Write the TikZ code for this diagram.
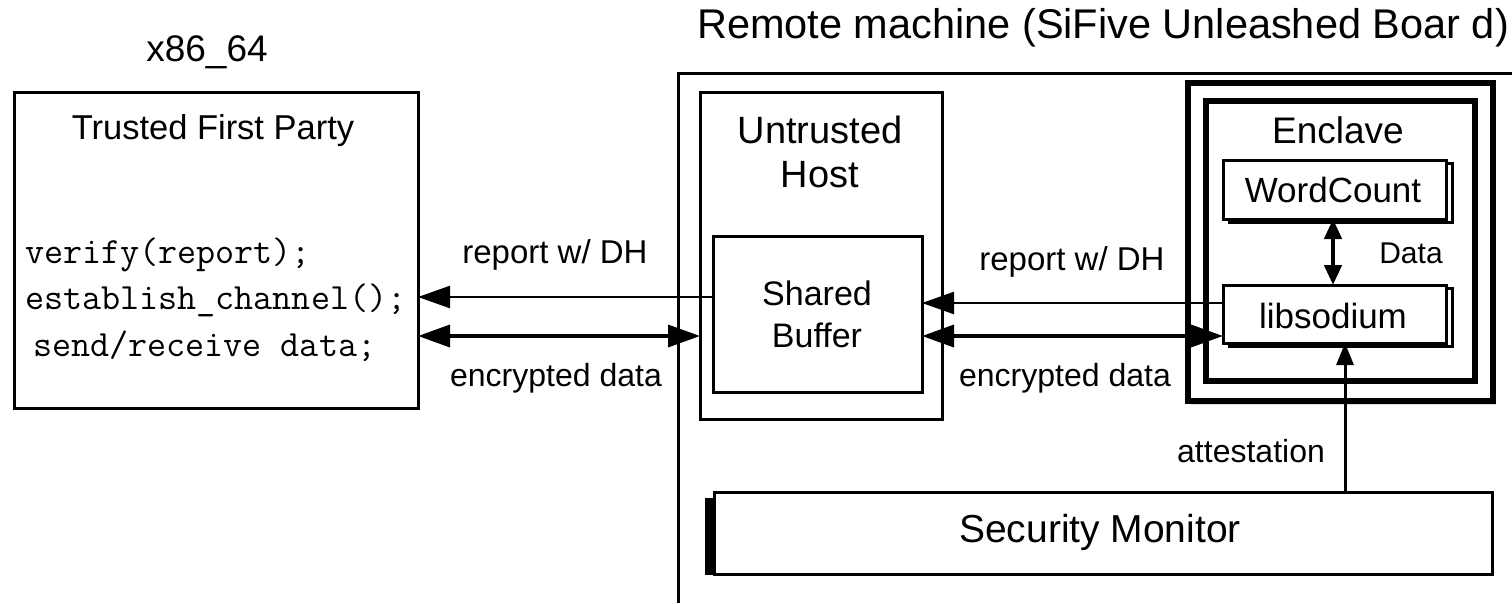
\documentclass[tikz,border=0pt]{standalone}
\usepackage{fontspec}
\setmainfont{Liberation Sans}
\usetikzlibrary{arrows.meta,shadows}
\begin{document}
\begin{tikzpicture}[x=1pt,y=-1pt,
  box/.style={draw,line width=3pt,inner sep=0pt,outer sep=0pt,fill=white},
  thickbox/.style={draw,line width=6pt,inner sep=0pt,outer sep=0pt,fill=white},
  txt/.style={inner sep=0pt,font=\fontsize{#1}{#1}\selectfont},
  txt/.default=32,
  code/.style={inner sep=0pt,anchor=west,font=\ttfamily\fontsize{37}{37}\selectfont},
  arr/.style={line width=2.5pt,-{Triangle[length=32pt,width=22pt]}},
  darr/.style={line width=3.5pt,{Triangle[length=32pt,width=22pt]}-{Triangle[length=32pt,width=22pt]}},
]
\useasboundingbox (0,0) rectangle (1512,603);

% remote machine frame
\coordinate (rmA) at (678,603);
\coordinate (rmB) at (678,73);
\coordinate (rmC) at (1512,73);
\draw[line width=3pt] (rmA) -- (rmB) -- (rmC);

% titles
\node[txt=37] (x86) at (207,52) {x86\_64};
\node[txt=41.5] (rmt) at (1103,28) {Remote machine (SiFive Unleashed Boar d)};

% trusted first party
\node[box,minimum width=404pt,minimum height=316pt] (tfp) at (216,250) {};
\node[txt=34.5] (tfpt) at (213,131) {Trusted First Party};
\node[code] (c1) at (25,255) {verify(report);};
\node[code] (c2) at (25,300) {establish\_channel();};
\node[code] (c3) at (33,346) {send/receive data;};

% untrusted host
\node[box,minimum width=242pt,minimum height=327pt] (uh) at (821,255.5) {};
\node[txt=38,align=center] (uht) at (820,152) {Untrusted\\[6pt]Host};
\node[box,minimum width=209pt,minimum height=156pt] (sb) at (817.5,314) {};
\node[txt=34,align=center] (sbt) at (817,314) {Shared\\[8pt]Buffer};

% enclave
\node[thickbox,minimum width=305pt,minimum height=318pt,
      drop shadow={opacity=0.25,shadow xshift=3pt,shadow yshift=-4pt}] (encO) at (1340.5,242) {};
\node[thickbox,minimum width=269pt,minimum height=280pt] (encI) at (1340.5,241) {};
\node[txt=37] (enct) at (1338,130) {Enclave};

% WordCount
\node[box,minimum width=223pt,minimum height=59pt] (wcs) at (1340.5,192.5) {};
\node[box,minimum width=223pt,minimum height=59pt] (wc) at (1334.5,189.5) {};
\node[txt=35] (wct) at (1333,190) {WordCount};

% libsodium
\node[box,minimum width=223pt,minimum height=58pt] (lss) at (1340.5,317) {};
\node[box,minimum width=223pt,minimum height=58pt] (ls) at (1334.5,314) {};
\node[txt=35] (lst) at (1333,316) {libsodium};

% security monitor
\node[box,minimum width=778pt,minimum height=82pt] (sm) at (1103,533) {};
\coordinate (smbA) at (705,498);
\coordinate (smbB) at (714,575);
\fill (smbA) rectangle (smbB);
\node[txt=39] (smt) at (1100,532) {Security Monitor};

% connectors
\draw[arr] (sb.west |- 0,297) -- (tfp.east |- 0,297);
\draw[darr] (tfp.east |- 0,336) -- (uh.west |- 0,336);
\draw[arr] (ls.west |- 0,303) -- (sb.east |- 0,303);
\draw[darr] (sb.east |- 0,336) -- (ls.west |- 0,336);
\draw[line width=4.5pt,{Triangle[length=20pt,width=17pt]}-{Triangle[length=20pt,width=17pt]}] (wc.south -| 1333,0) -- (ls.north -| 1333,0);
\draw[line width=3pt,-{Triangle[length=22pt,width=17pt]}] (sm.north -| 1345,0) -- (ls.south -| 1345,0);

% labels
\node[txt=33] (l1) at (555,255) {report w/ DH};
\node[txt=32] (l2) at (556,378) {encrypted data};
\node[txt=33] (l3) at (1072,262) {report w/ DH};
\node[txt=32] (l4) at (1065,378) {encrypted data};
\node[txt=30] (l5) at (1411,253) {Data};
\node[txt=32] (l6) at (1251,451) {attestation};
\end{tikzpicture}
\end{document}
